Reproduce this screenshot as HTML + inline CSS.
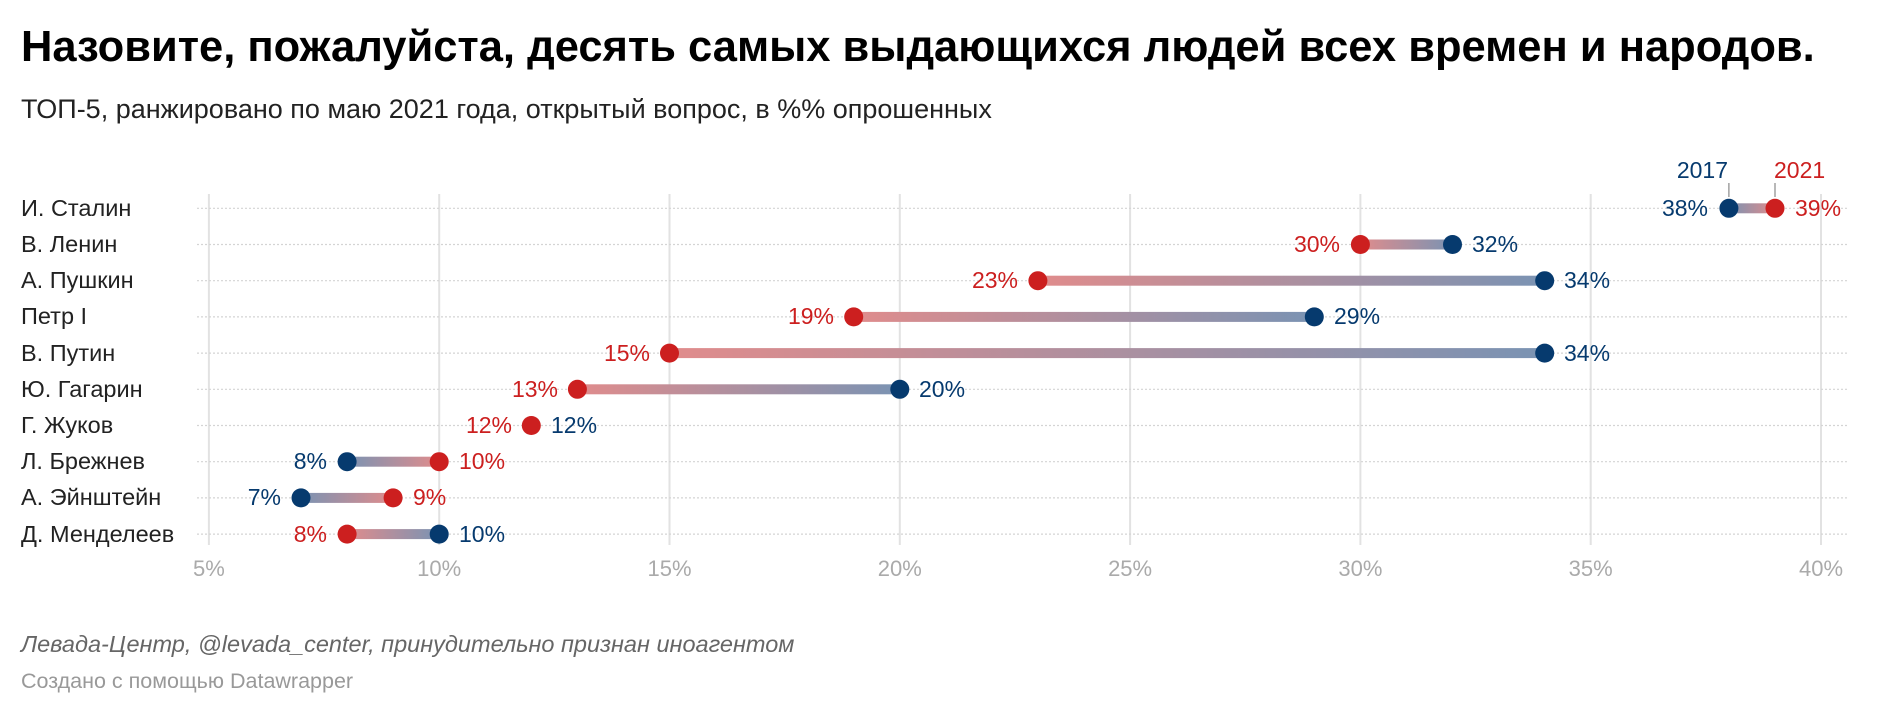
<!DOCTYPE html>
<html><head><meta charset="utf-8"><style>
body{margin:0;background:#fff;width:1890px;height:714px;overflow:hidden}
svg{display:block;font-family:"Liberation Sans",Arial,sans-serif}
</style></head><body>
<svg width="1890" height="714" viewBox="0 0 1890 714" xmlns="http://www.w3.org/2000/svg">
<defs>
<linearGradient id="rb" x1="0" x2="1" y1="0" y2="0"><stop offset="0" stop-color="#e08c8c"/><stop offset="1" stop-color="#7a93b3"/></linearGradient>
<linearGradient id="br" x1="0" x2="1" y1="0" y2="0"><stop offset="0" stop-color="#7a93b3"/><stop offset="1" stop-color="#e08c8c"/></linearGradient>
</defs>
<text x="21" y="61" font-size="43.5" font-weight="bold" fill="#000">Назовите, пожалуйста, десять самых выдающихся людей всех времен и народов.</text>
<text x="21" y="118" font-size="27" fill="#222">ТОП-5, ранжировано по маю 2021 года, открытый вопрос, в %% опрошенных</text>
<g stroke="#e2e2e2" stroke-width="2">
<line x1="208.9" y1="194" x2="208.9" y2="545"/><line x1="439.2" y1="194" x2="439.2" y2="545"/><line x1="669.5" y1="194" x2="669.5" y2="545"/><line x1="899.8" y1="194" x2="899.8" y2="545"/><line x1="1130.1" y1="194" x2="1130.1" y2="545"/><line x1="1360.4" y1="194" x2="1360.4" y2="545"/><line x1="1590.7" y1="194" x2="1590.7" y2="545"/><line x1="1821" y1="194" x2="1821" y2="545"/>
</g>
<g stroke="#d4d4d4" stroke-width="1.2" stroke-dasharray="2,2">
<line x1="197" x2="1848" y1="208.3" y2="208.3"/><line x1="197" x2="1848" y1="244.5" y2="244.5"/><line x1="197" x2="1848" y1="280.7" y2="280.7"/><line x1="197" x2="1848" y1="316.9" y2="316.9"/><line x1="197" x2="1848" y1="353.1" y2="353.1"/><line x1="197" x2="1848" y1="389.3" y2="389.3"/><line x1="197" x2="1848" y1="425.5" y2="425.5"/><line x1="197" x2="1848" y1="461.7" y2="461.7"/><line x1="197" x2="1848" y1="497.9" y2="497.9"/><line x1="197" x2="1848" y1="534.1" y2="534.1"/>
</g>
<g font-size="23.5" fill="#222">
<text x="21" y="216">И. Сталин</text><text x="21" y="252">В. Ленин</text><text x="21" y="288">А. Пушкин</text><text x="21" y="324">Петр I</text><text x="21" y="361">В. Путин</text><text x="21" y="397">Ю. Гагарин</text><text x="21" y="433">Г. Жуков</text><text x="21" y="469">Л. Брежнев</text><text x="21" y="505">А. Эйнштейн</text><text x="21" y="542">Д. Менделеев</text>
</g>
<g font-size="22" fill="#aaa" text-anchor="middle">
<text x="208.9" y="576">5%</text><text x="439.2" y="576">10%</text><text x="669.5" y="576">15%</text><text x="899.8" y="576">20%</text><text x="1130.1" y="576">25%</text><text x="1360.4" y="576">30%</text><text x="1590.7" y="576">35%</text><text x="1821" y="576">40%</text>
</g>
<g>
<rect x="1728.9" y="203.3" width="46.1" height="10" fill="url(#br)"/>
<rect x="1360.4" y="239.5" width="92.1" height="10" fill="url(#rb)"/>
<rect x="1037.9" y="275.7" width="506.8" height="10" fill="url(#rb)"/>
<rect x="853.7" y="311.9" width="460.6" height="10" fill="url(#rb)"/>
<rect x="669.5" y="348.1" width="875.2" height="10" fill="url(#rb)"/>
<rect x="577.4" y="384.3" width="322.4" height="10" fill="url(#rb)"/>
<rect x="347.1" y="456.7" width="92.1" height="10" fill="url(#br)"/>
<rect x="301" y="492.9" width="92.1" height="10" fill="url(#br)"/>
<rect x="347.1" y="529.1" width="92.1" height="10" fill="url(#rb)"/>
</g>
<g fill="#063a6e">
<circle cx="1728.9" cy="208.3" r="9.5"/><circle cx="1452.5" cy="244.5" r="9.5"/><circle cx="1544.7" cy="280.7" r="9.5"/><circle cx="1314.3" cy="316.9" r="9.5"/><circle cx="1544.7" cy="353.1" r="9.5"/><circle cx="899.8" cy="389.3" r="9.5"/><circle cx="347.1" cy="461.7" r="9.5"/><circle cx="301" cy="497.9" r="9.5"/><circle cx="439.2" cy="534.1" r="9.5"/>
</g>
<g fill="#cc1f1f">
<circle cx="1775" cy="208.3" r="9.5"/><circle cx="1360.4" cy="244.5" r="9.5"/><circle cx="1037.9" cy="280.7" r="9.5"/><circle cx="853.7" cy="316.9" r="9.5"/><circle cx="669.5" cy="353.1" r="9.5"/><circle cx="577.4" cy="389.3" r="9.5"/><circle cx="531.3" cy="425.5" r="9.5"/><circle cx="439.2" cy="461.7" r="9.5"/><circle cx="393.1" cy="497.9" r="9.5"/><circle cx="347.1" cy="534.1" r="9.5"/>
</g>
<g font-size="23" fill="#063a6e">
<text x="1708" y="216" text-anchor="end">38%</text>
<text x="1472" y="252">32%</text>
<text x="1564" y="288">34%</text>
<text x="1334" y="324">29%</text>
<text x="1564" y="361">34%</text>
<text x="919" y="397">20%</text>
<text x="551" y="433">12%</text>
<text x="327" y="469" text-anchor="end">8%</text>
<text x="281" y="505" text-anchor="end">7%</text>
<text x="459" y="542">10%</text>
<text x="1728" y="178" text-anchor="end">2017</text>
</g>
<g font-size="23" fill="#cc1f1f">
<text x="1795" y="216">39%</text>
<text x="1340" y="252" text-anchor="end">30%</text>
<text x="1018" y="288" text-anchor="end">23%</text>
<text x="834" y="324" text-anchor="end">19%</text>
<text x="650" y="361" text-anchor="end">15%</text>
<text x="558" y="397" text-anchor="end">13%</text>
<text x="512" y="433" text-anchor="end">12%</text>
<text x="459" y="469">10%</text>
<text x="413" y="505">9%</text>
<text x="327" y="542" text-anchor="end">8%</text>
<text x="1774" y="178">2021</text>
</g>
<g stroke="#888" stroke-width="1.2"><line x1="1728.9" y1="183" x2="1728.9" y2="197"/><line x1="1775" y1="183" x2="1775" y2="197"/></g>
<text x="21" y="652" font-size="23.5" font-style="italic" fill="#666">Левада-Центр, @levada_center, принудительно признан иноагентом</text>
<text x="21" y="688" font-size="21.5" fill="#999">Создано с помощью Datawrapper</text>
</svg>
</body></html>
